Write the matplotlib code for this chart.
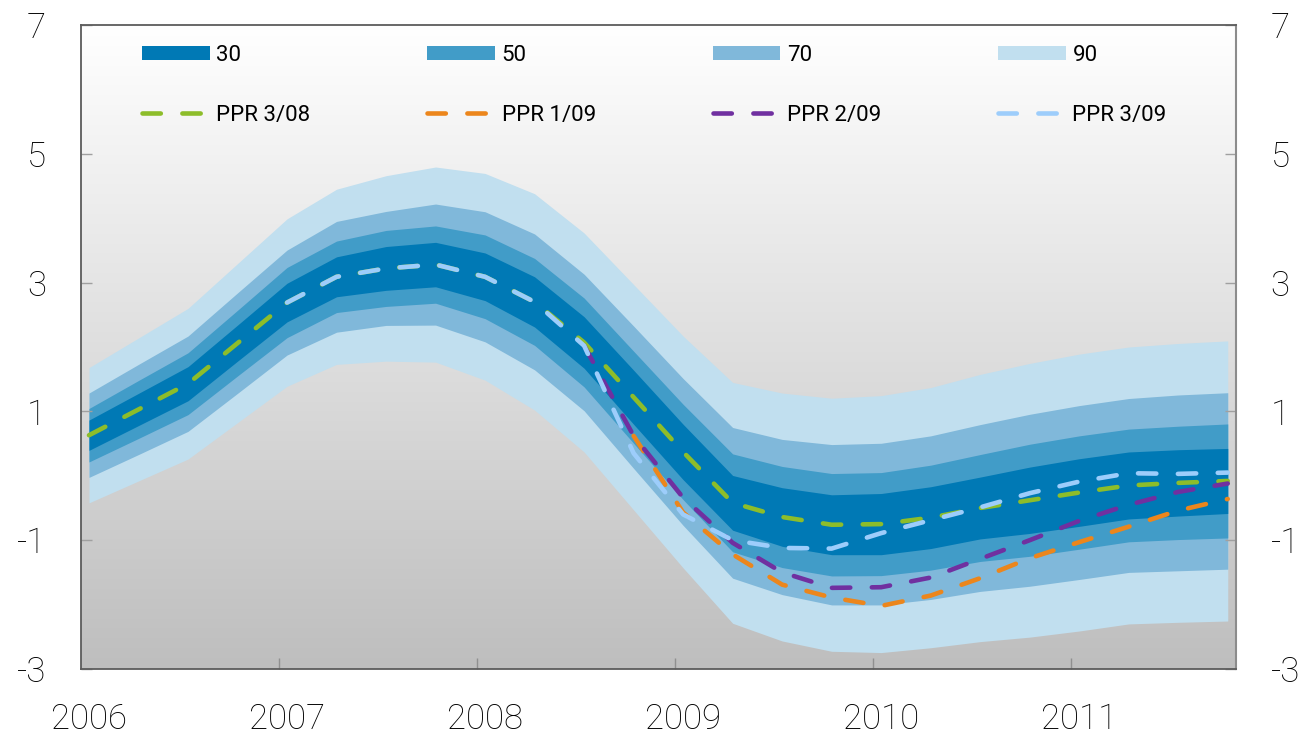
import numpy as np
import matplotlib
matplotlib.use("Agg")
import matplotlib.pyplot as plt
from matplotlib.patches import Patch
from matplotlib.lines import Line2D

plt.rcParams['font.family'] = ['Roboto', 'DejaVu Sans']

# quarterly points 2006Q1 .. 2011Q4
years = [2006, 2007, 2008, 2009, 2010, 2011]
quarters = [(y, q) for y in years for q in range(1, 5)]

# PPR 3/08 projection = centre of the fan
ppr_308 = [0.63, 1.03, 1.43, 2.06, 2.69, 3.09, 3.22, 3.28, 3.09, 2.70, 2.07, 1.22,
           0.37, -0.42, -0.64, -0.76, -0.75, -0.65, -0.50, -0.38, -0.26, -0.15, -0.11, -0.08]
# half widths of the probability bands
band_30 = [0.235, 0.25, 0.265, 0.28, 0.30, 0.31, 0.34, 0.345, 0.37, 0.39, 0.40, 0.42,
           0.43, 0.425, 0.455, 0.465, 0.475, 0.48, 0.48, 0.515, 0.525, 0.52, 0.515, 0.505]
band_50 = [0.415, 0.45, 0.48, 0.51, 0.545, 0.555, 0.59, 0.60, 0.65, 0.675, 0.69, 0.715,
           0.74, 0.76, 0.785, 0.795, 0.80, 0.815, 0.83, 0.87, 0.88, 0.875, 0.88, 0.885]
band_70 = [0.655, 0.70, 0.74, 0.78, 0.815, 0.86, 0.885, 0.94, 1.01, 1.055, 1.06, 1.105,
           1.14, 1.17, 1.205, 1.245, 1.255, 1.27, 1.295, 1.335, 1.35, 1.35, 1.365, 1.37]
band_90 = [1.05, 1.11, 1.17, 1.235, 1.30, 1.36, 1.44, 1.515, 1.605, 1.68, 1.70, 1.75,
           1.80, 1.87, 1.925, 1.965, 1.995, 2.02, 2.075, 2.125, 2.15, 2.15, 2.165, 2.175]

nan = np.nan
ppr_109 = [nan] * 11 + [0.62, -0.57, -1.22, -1.69, -1.89, -2.02, -1.86, -1.59, -1.28,
                        -1.03, -0.79, -0.54, -0.36]
ppr_209 = [nan] * 10 + [2.02, 0.62, -0.34, -1.04, -1.50, -1.74, -1.73, -1.58, -1.29,
                        -1.00, -0.70, -0.45, -0.25, -0.12]
ppr_309 = [nan] * 4 + [2.69, 3.09, 3.22, 3.28, 3.09, 2.70, 2.02, 0.35, -0.60, -1.00,
                       -1.12, -1.13, -0.89, -0.69, -0.49, -0.27, -0.09, 0.04, 0.03, 0.05]

bands = [("90", band_90, "#c1dfef"), ("70", band_70, "#80b8da"),
         ("50", band_50, "#419cc8"), ("30", band_30, "#0079b5")]
lines = [("PPR 3/08", ppr_308, "#8dbd2a"), ("PPR 1/09", ppr_109, "#ec861c"),
         ("PPR 2/09", ppr_209, "#7030a0"), ("PPR 3/09", ppr_309, "#9dcdfb")]

# mid of first month of each quarter, in years
x = np.array([y + (3 * (q - 1) + 0.5) / 12 for y, q in quarters])
mid = np.array(ppr_308)
x_end = 2011 + 10 / 12

fig = plt.figure(figsize=(13.06, 7.37), dpi=100)
ax = fig.add_axes([80.75 / 1306, 1 - 669 / 737, (1236 - 80.75) / 1306, (669 - 25) / 737])

# grey gradient background, white at the top
grad = np.linspace(0, 1, 256).reshape(-1, 1)
bg = matplotlib.colors.LinearSegmentedColormap.from_list('bg', ['#bebebe', '#ffffff'])
ax.imshow(grad, aspect='auto', cmap=bg, extent=(2006, x_end, -3, 7), zorder=0,
          origin='lower')

for name, hw, col in bands:
    hw = np.array(hw)
    ax.fill_between(x, mid - hw, mid + hw, color=col, lw=0, zorder=1)

for name, vals, col in lines:
    ln, = ax.plot(x, vals, color=col, lw=3.3, zorder=3, solid_capstyle='round',
                  dash_capstyle='round')
    ln.set_dashes((4.0, 4.7))

ax.set_xlim(2006, x_end)
ax.set_ylim(-3, 7)

# y axis on both sides
yt = [-3, -1, 1, 3, 5, 7]
ax.set_yticks(yt)
ax.set_yticklabels([str(v) for v in yt])
ax.tick_params(axis='y', which='both', direction='in', length=8, width=1, color='#a0a0a0',
               left=True, right=True, labelleft=True, labelright=True, labelsize=25, pad=25)
for t in ax.yaxis.get_majorticklabels():
    t.set_fontweight('light')

ax.set_xticks(years[1:])
ax.set_xticklabels([])
ax.set_xticks([y + 0.5 / 12 for y in years], minor=True)
ax.set_xticklabels([str(y) for y in years], minor=True, fontsize=25, fontweight='light')
ax.tick_params(axis='x', which='major', direction='in', length=8, width=1, color='#909090')
ax.tick_params(axis='x', which='minor', length=0, pad=24)

for s in ['left', 'top', 'bottom']:
    ax.spines[s].set_color('#5c5c5c')
    ax.spines[s].set_linewidth(1.3)
ax.spines['right'].set_color('#8c8c8c')
ax.spines['right'].set_linewidth(1.5)

# legend: bands in row one, projections in row two
handles = []
labels = []
for (bn, _, bc), (ln_, _, lc) in zip(bands[::-1], lines):
    handles.append(Patch(facecolor=bc, edgecolor='none'))
    labels.append(bn)
    h = Line2D([0], [0], color=lc, lw=3.3, dash_capstyle='round')
    h.set_dashes((4.0, 4.7))
    handles.append(h)
    labels.append(ln_)
leg = ax.legend(handles, labels, ncol=4, loc='upper left', frameon=False,
                bbox_to_anchor=(142 / 1306, 1 - 45 / 737), bbox_transform=fig.transFigure,
                borderpad=0, borderaxespad=0, handlelength=3.05, handleheight=0.62,
                handletextpad=0.3, columnspacing=5.25, labelspacing=1.75,
                prop={'size': 16})

fig.savefig('out.png', dpi=100)
